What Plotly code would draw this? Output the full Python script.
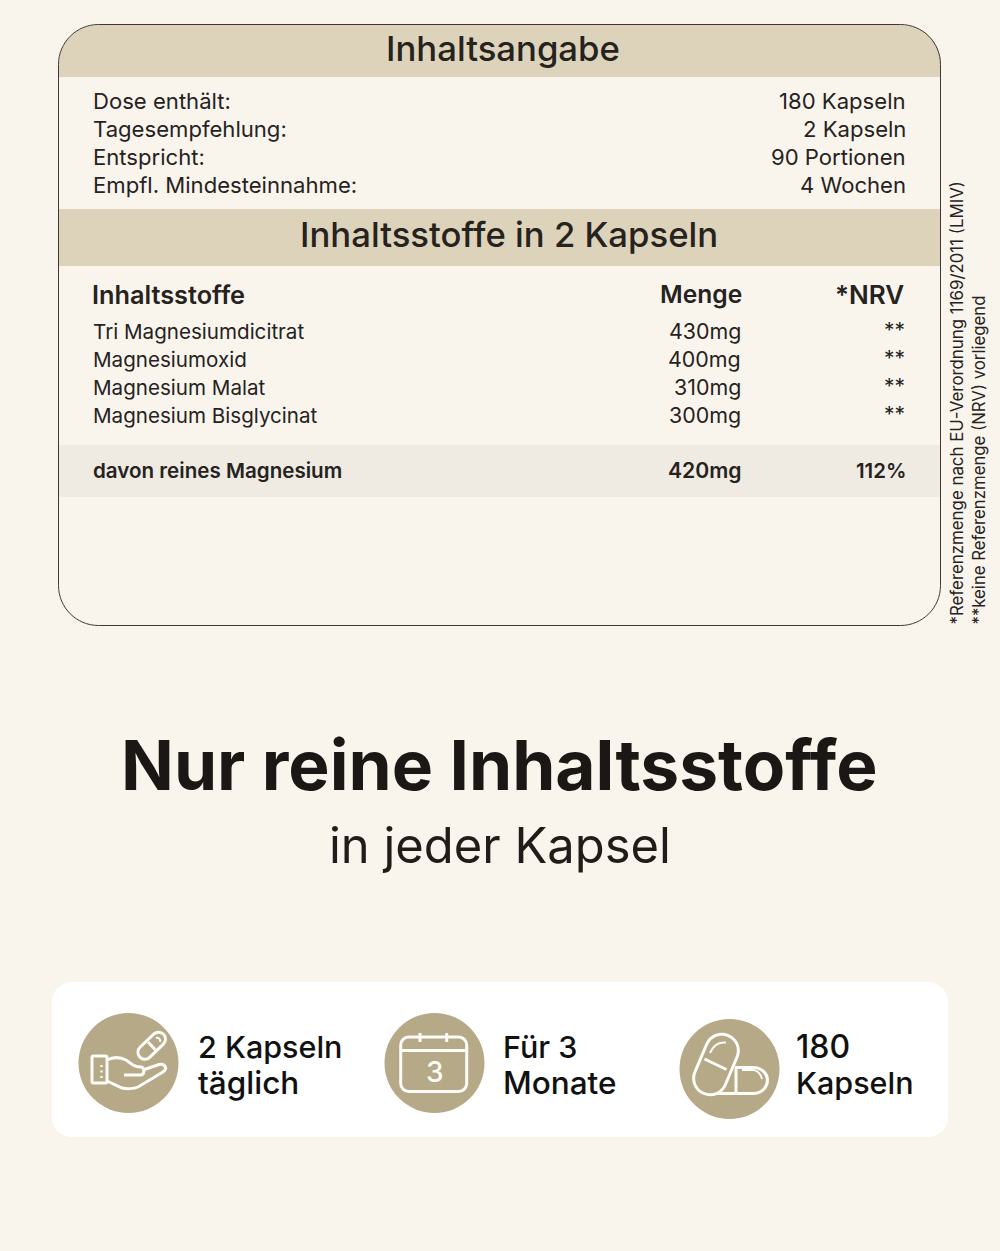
import plotly.graph_objects as go

# values
dose_labels = ["Dose enthält:", "Tagesempfehlung:", "Entspricht:", "Empfl. Mindesteinnahme:"]
dose_values = ["180 Kapseln", "2 Kapseln", "90 Portionen", "4 Wochen"]
ingredient_names = ["Tri Magnesiumdicitrat", "Magnesiumoxid", "Magnesium Malat", "Magnesium Bisglycinat"]
ingredient_amounts = ["430mg", "400mg", "310mg", "300mg"]
ingredient_nrv = ["**", "**", "**", "**"]
table_header = ["Inhaltsstoffe", "Menge", "*NRV"]
total_row = ["davon reines Magnesium", "420mg", "112%"]
card_labels = [["2 Kapseln", "täglich"], ["Für 3", "Monate"], ["180", "Kapseln"]]
footnotes = ["*Referenzmenge nach EU-Verordnung 1169/2011 (LMIV)", "**keine Referenzmenge (NRV) vorliegend"]

BG = "#f9f5ed"
BAND = "#ddd3ba"
BAND_LIGHT = "#efebe2"
GOLD = "#b6a987"
INK = "#26221e"
FONT = "Inter"

dose_y = [100.5, 128.5, 156.5, 184.5]
row_y = [331, 359, 387, 415]
nrv_y = [330, 358, 386, 414]
card_x = [197, 502, 795]
card_sizes = [[30.5, 31.5], [30.5, 31.5], [32, 30.5]]
circles = [(128.5, 1063), (434.5, 1063), (729.5, 1069)]

fig = go.Figure()


def text(x, y, s, size, anchor="left", weight=400, color=INK, angle=0, yanchor="middle"):
    fig.add_annotation(x=x, y=y, text=s, showarrow=False, xanchor=anchor, yanchor=yanchor,
                       textangle=angle, borderpad=0,
                       font=dict(family=FONT, size=size, color=color, weight=weight))


def shape_path(d, fill=None, line=None, width=3, layer="above"):
    fig.add_shape(type="path", path=d, fillcolor=fill or "rgba(0,0,0,0)", layer=layer,
                  line=dict(color=line or "rgba(0,0,0,0)", width=width if line else 0))


def rounded(x0, y0, x1, y1, r):
    k = r * 0.448
    return (f"M {x0+r} {y0} L {x1-r} {y0} C {x1-k} {y0} {x1} {y0+k} {x1} {y0+r} "
            f"L {x1} {y1-r} C {x1} {y1-k} {x1-k} {y1} {x1-r} {y1} "
            f"L {x0+r} {y1} C {x0+k} {y1} {x0} {y1-k} {x0} {y1-r} "
            f"L {x0} {y0+r} C {x0} {y0+k} {x0+k} {y0} {x0+r} {y0} Z")


def capsule(cx, cy, ux, uy, length, width):
    # capsule outline along the unit axis (ux, uy)
    r = width / 2
    h = length / 2 - r
    nx, ny = -uy * r, ux * r
    ex, ey = ux * r * 0.552, uy * r * 0.552
    kx, ky = nx * 0.552, ny * 0.552
    ax, ay = cx + ux * h, cy + uy * h
    bx, by = cx - ux * h, cy - uy * h
    tx, ty = ax + ux * r, ay + uy * r
    sx, sy = bx - ux * r, by - uy * r
    return (f"M {ax+nx} {ay+ny} C {ax+nx+ex} {ay+ny+ey} {tx+kx} {ty+ky} {tx} {ty} "
            f"C {tx-kx} {ty-ky} {ax-nx+ex} {ay-ny+ey} {ax-nx} {ay-ny} "
            f"L {bx-nx} {by-ny} C {bx-nx-ex} {by-ny-ey} {sx-kx} {sy-ky} {sx} {sy} "
            f"C {sx+kx} {sy+ky} {bx+nx-ex} {by+ny-ey} {bx+nx} {by+ny} Z")


# table frame and bands
shape_path("M 59 77 L 59 65 C 59 42 76 25 99 25 L 901 25 C 924 25 941 42 941 65 L 941 77 Z", fill=BAND, layer="below")
fig.add_shape(type="rect", x0=59, x1=941, y0=209, y1=266, fillcolor=BAND, line_width=0, layer="below")
fig.add_shape(type="rect", x0=59, x1=941, y0=445, y1=497, fillcolor=BAND_LIGHT, line_width=0, layer="below")
shape_path(rounded(58.5, 24.5, 940.5, 625.5, 40), line="#3c3a36", width=1, layer="below")

# bottom card
shape_path(rounded(52, 982, 948, 1137, 20), fill="#ffffff", layer="below")
for cx, cy in circles:
    fig.add_shape(type="circle", x0=cx - 50, x1=cx + 50, y0=cy - 50, y1=cy + 50, fillcolor=GOLD, line_width=0, layer="below")

# hand with pill
WHITE = "#fdfcf9"
shape_path(rounded(92, 1056, 107, 1083, 1.5), line=WHITE)
for dy in [1066, 1071.5, 1077]:
    fig.add_shape(type="line", x0=101.5, x1=101.5, y0=dy - 1, y1=dy + 1, line=dict(color=WHITE, width=2.4))
shape_path("M 107 1060 C 113 1057 120 1057 126 1060 L 133 1065 C 136 1067 139 1067 141 1067 "
           "C 145 1068 145 1075 140 1075 L 124 1075", line=WHITE)
shape_path("M 143 1070 L 159 1064.5 C 165 1063 168 1069 163 1072 L 138 1087 C 134 1089 126 1089 122 1088 "
           "L 107 1081", line=WHITE)
shape_path(capsule(151.7, 1045.7, 0.72, -0.69, 33, 14), line=WHITE)
shape_path("M 148 1042 L 155.5 1050", line=WHITE)
shape_path("M 156 1038 C 158 1037 161 1039 160 1042", line=WHITE, width=2)

# calendar
shape_path(rounded(400.7, 1037, 466.7, 1091.5, 8), line=WHITE)
shape_path("M 401 1050.5 L 466.5 1050.5", line=WHITE)
for tx in [420, 446.7]:
    shape_path(f"M {tx} 1033 L {tx} 1042", line=WHITE)
text(434.5, 1072, "3", 28, anchor="center", color=WHITE, weight=500)

# two capsules
shape_path(capsule(716, 1064.5, 0.39, -0.92, 63, 33), line=WHITE)
shape_path("M 704.5 1059 L 726.5 1069.5", line=WHITE)
shape_path("M 710 1053 C 714 1045 718 1042 726 1042.5", line=WHITE, width=2)
shape_path("M 735 1067.5 L 753 1067.5 C 763 1067.5 767.5 1075 767.5 1080 C 767.5 1086 763 1093.5 753 1093.5 L 716 1093.5", line=WHITE)
shape_path("M 736 1067.5 L 736 1093", line=WHITE)
shape_path("M 742 1070 L 753 1070 C 757 1070 761 1074 762 1079", line=WHITE, width=2)

# texts
text(503, 47.5, "Inhaltsangabe", 34.7, anchor="center", weight=500)
text(508.5, 233.5, "Inhaltsstoffe in 2 Kapseln", 34.7, anchor="center", weight=500)
for label, value, y in zip(dose_labels, dose_values, dose_y):
    text(91.5, y, label, 22.1)
    text(907, y, value, 22.1, anchor="right")

for s, x, a, size in zip(table_header, [90.5, 742.5, 905], ["left", "right", "right"], [25.3, 24.6, 26]):
    text(x, 294, s, size, anchor=a, weight=600)
for name, amount, nrv, y, ny in zip(ingredient_names, ingredient_amounts, ingredient_nrv, row_y, nrv_y):
    text(91.5, y, name, 20.6)
    text(742, y, amount, 21.4, anchor="right")
    text(906, ny, nrv, 21, anchor="right")
for s, x, a, size in zip(total_row, [91.5, 742.5, 906.5], ["left", "right", "right"], [20.6, 21.2, 20.4]):
    text(x, 470, s, size, anchor=a, weight=600)

text(956, 626, footnotes[0], 16.85, anchor="center", angle=-90, yanchor="bottom")
text(978, 626, footnotes[1], 16.75, anchor="center", angle=-90, yanchor="bottom")

text(499, 765, "Nur reine Inhaltsstoffe", 69.4, anchor="center", weight=700, color="#1a1714")
text(500, 845, "in jeder Kapsel", 48.9, anchor="center", color="#1f1c19")

for x, lines, sizes in zip(card_x, card_labels, card_sizes):
    text(x, 1046, lines[0], sizes[0], weight=500, color="#111111")
    text(x, 1082.5, lines[1], sizes[1], weight=500, color="#111111")

fig.update_xaxes(range=[0, 1000], visible=False, fixedrange=True)
fig.update_yaxes(range=[1251, 0], visible=False, fixedrange=True)
fig.update_layout(width=1000, height=1251, margin=dict(l=0, r=0, t=0, b=0), paper_bgcolor=BG, plot_bgcolor=BG,
                  showlegend=False)

fig.write_html("out.html", config={"displayModeBar": False},
               post_script="document.body.style.margin='0';document.body.style.background='" + BG + "';")
